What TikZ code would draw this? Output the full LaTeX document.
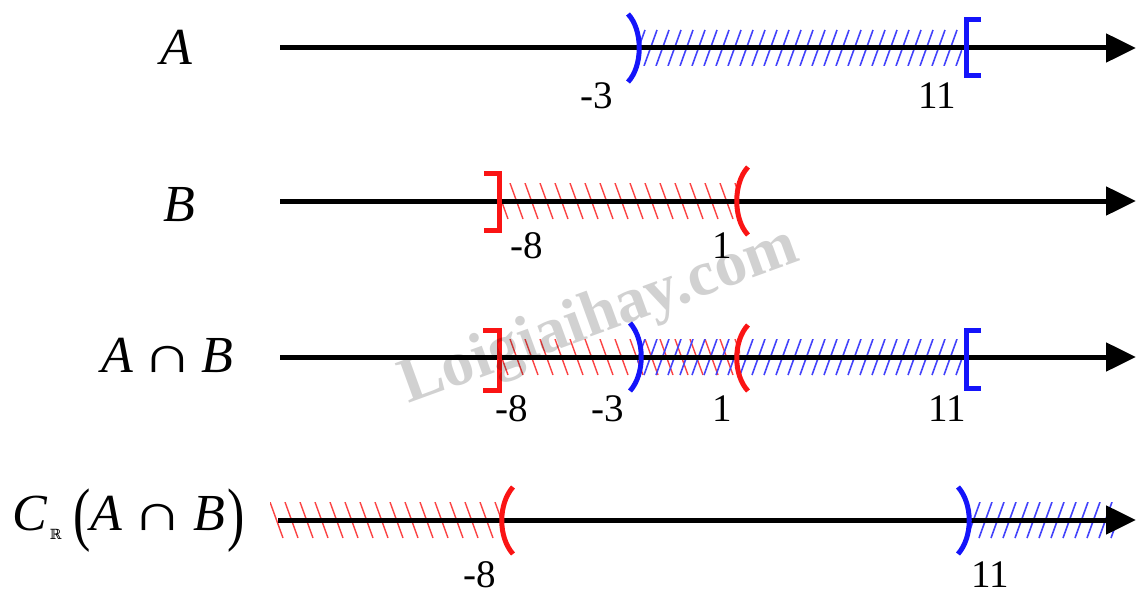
\documentclass[tikz,border=0pt]{standalone}
\usepackage{fontspec}
\usepackage{graphicx}
\setmainfont{Liberation Serif}
\newfontfamily\dejaserif{DejaVu Serif}
\usetikzlibrary{arrows.meta}
\definecolor{myblue}{RGB}{20,20,250}
\definecolor{myred}{RGB}{250,20,20}
\newcommand{\capsym}{{\upshape\scalebox{1.35}[1]{∩}}}
\begin{document}
\begin{tikzpicture}[x=1pt,y=-1pt,
  axis/.style={line width=5pt,-{Triangle[length=30pt,width=28pt]}},
  bluemark/.style={myblue,line width=5pt},
  redmark/.style={myred,line width=5pt},
  bluehatch/.style={myblue!80,line width=1.6pt},
  redhatch/.style={myred!80,line width=1.4pt},
  num/.style={font=\fontsize{39}{40}\selectfont,inner sep=0pt},
  rowlab/.style={font=\fontsize{52}{56}\selectfont\itshape,inner sep=0pt,anchor=base west}]
\useasboundingbox (0,0) rectangle (1136,594);
% row labels
\node[rowlab] (lA) at (160,65) {A};
\node[rowlab] (lB) at (163,221) {B};
\node[rowlab] (lAB) at (101,372) {A\hspace{10pt}\capsym\hspace{8pt}B};
\node[rowlab] (lC) at (12,530) {C\hspace{3pt}\raisebox{-9pt}{\fontsize{14}{14}\selectfont\upshape\dejaserif ℝ}\hspace{12pt}\raisebox{-7pt}{\upshape\scalebox{1}[1.35]{(}}A\hspace{10pt}\capsym\hspace{10pt}B\hspace{2pt}\raisebox{-7pt}{\upshape\scalebox{1}[1.35]{)}}};
% axes coordinates
\coordinate (s1) at (280,48); \coordinate (e1) at (1136,48);
\coordinate (s2) at (280,201); \coordinate (e2) at (1136,201);
\coordinate (s3) at (280,357); \coordinate (e3) at (1136,357);
\coordinate (s4) at (278,520); \coordinate (e4) at (1136,520);
% ---- hatching ----
% row 1 blue
\begin{scope}\clip (640,30) rectangle (962,66);
\foreach \x in {620,632,...,980} \draw[bluehatch] (\x,66) -- (\x+13,30);
\end{scope}
% row 2 red
\begin{scope}\clip (502,183) rectangle (738,219);
\foreach \x in {480,495,...,760} \draw[redhatch] (\x,183) -- (\x+13,219);
\end{scope}
% row 3 red + blue
\begin{scope}\clip (502,339) rectangle (740,375);
\foreach \x in {480,495,...,760} \draw[redhatch] (\x,339) -- (\x+13,375);
\end{scope}
\begin{scope}\clip (637,339) rectangle (962,375);
\foreach \x in {620,632,...,980} \draw[bluehatch] (\x,375) -- (\x+13,339);
\end{scope}
% row 4 red + blue
\begin{scope}\clip (270,502) rectangle (502,538);
\foreach \x in {255,270,...,520} \draw[redhatch] (\x,502) -- (\x+13,538);
\end{scope}
\begin{scope}\clip (970,502) rectangle (1118,538);
\foreach \x in {955,967,...,1130} \draw[bluehatch] (\x,538) -- (\x+13,502);
\end{scope}
% ---- axes ----
\draw[axis] (s1) -- (e1);
\draw[axis] (s2) -- (e2);
\draw[axis] (s3) -- (e3);
\draw[axis] (s4) -- (e4);
% ---- endpoint marks ----
% row 1
\draw[bluemark] (628,14) .. controls (643,30) and (643,66) .. (628,82);
\draw[bluemark] (981,20) -- (966,20) -- (966,76) -- (981,76);
% row 2
\draw[redmark] (484,173) -- (499,173) -- (499,230) -- (484,230);
\draw[redmark] (748,167) .. controls (733,183) and (733,219) .. (748,235);
% row 3
\draw[redmark] (483,330) -- (499,330) -- (499,390) -- (483,390);
\draw[bluemark] (630,323) .. controls (645,340) and (645,374) .. (630,391);
\draw[redmark] (748,325) .. controls (733,341) and (733,375) .. (748,391);
\draw[bluemark] (981,330) -- (966,330) -- (966,388) -- (981,388);
% row 4
\draw[redmark] (513,487) .. controls (498,504) and (498,537) .. (513,554);
\draw[bluemark] (958,487) .. controls (973,504) and (973,537) .. (958,554);
% ---- numbers ----
\node[num] (n1a) at (597,96) {-3};
\node[num] (n1b) at (937,96) {11};
\node[num] (n2a) at (527,246) {-8};
\node[num] (n2b) at (722,246) {1};
\node[num] (n3a) at (512,409) {-8};
\node[num] (n3b) at (608,409) {-3};
\node[num] (n3c) at (722,409) {1};
\node[num] (n3d) at (947,409) {11};
\node[num] (n4a) at (480,575) {-8};
\node[num] (n4b) at (990,575) {11};
% watermark
\node[rotate=20,text=black,text opacity=0.18,font=\fontsize{64}{66}\selectfont\bfseries] (wm) at (600,318) {Loigiaihay.com};
\end{tikzpicture}
\end{document}
